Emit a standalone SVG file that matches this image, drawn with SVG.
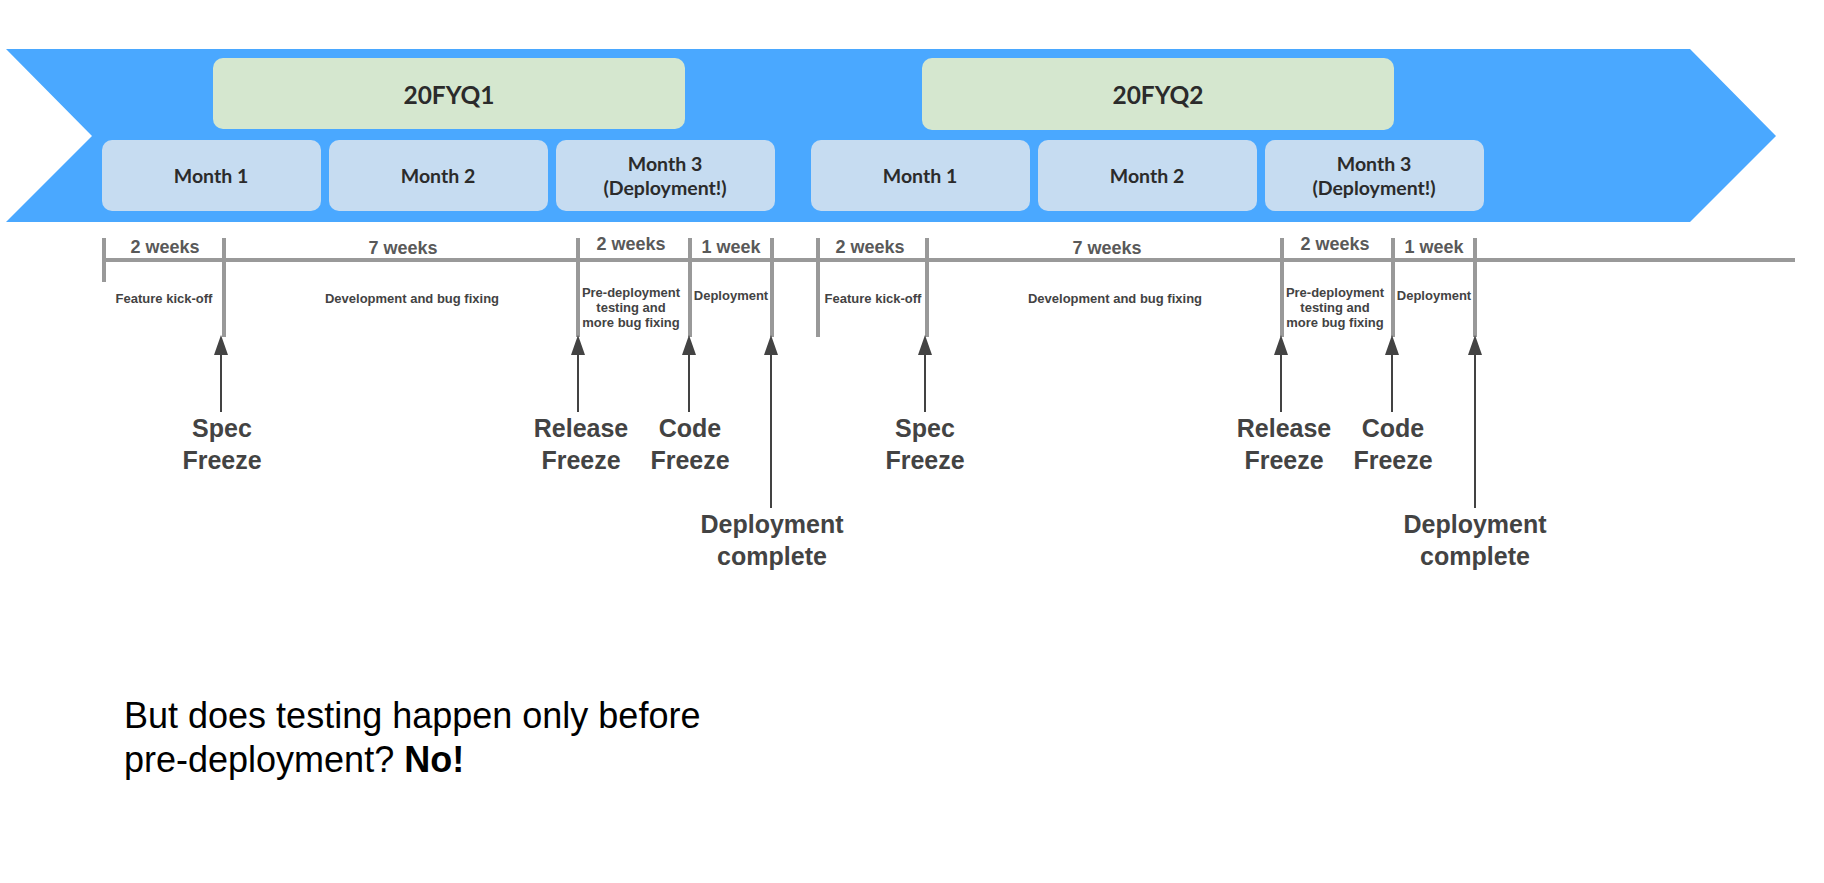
<svg xmlns="http://www.w3.org/2000/svg" width="1824" height="883" viewBox="0 0 1824 883">
<style>
.q{fill:#d5e7cf}
.m{fill:#c6dcf1}
.qt{font-family:Lato,"Liberation Sans",sans-serif;font-weight:bold;font-size:24.5px;fill:#2b2b2b;text-anchor:middle}
.mt{font-family:Lato,"Liberation Sans",sans-serif;font-weight:bold;font-size:19.5px;fill:#2b2b2b;text-anchor:middle}
.wk{font-family:"Liberation Sans",Arial,sans-serif;font-weight:bold;font-size:18px;fill:#595959;text-anchor:middle}
.sm{font-family:"Liberation Sans",Arial,sans-serif;font-weight:bold;font-size:13px;fill:#434343;text-anchor:middle}
.bg{font-family:"Liberation Sans",Arial,sans-serif;font-weight:bold;font-size:25px;fill:#434343;text-anchor:middle}
.tk{stroke:#999;stroke-width:4;fill:none}
.ar{stroke:#434343;stroke-width:2;fill:none;marker-end:url(#ah)}
.note{font-family:"Liberation Sans",Arial,sans-serif;font-size:36px;fill:#000}
</style>
<defs>
<marker id="ah" markerUnits="userSpaceOnUse" markerWidth="20" markerHeight="14" viewBox="0 0 20 14" refX="5" refY="7" orient="auto">
<path d="M0,0 L20,7 L0,14 z" fill="#434343"/>
</marker>
</defs>
<rect width="1824" height="883" fill="#fff"/>
<g id="chevron">
<polygon points="6,49 1690,49 1776,136 1690,222 6,222 92,136" fill="#4aa8ff"/>
</g>
<g id="q1"><rect class="q" x="213" y="58" width="472" height="71" rx="10"/><text class="qt" x="449" y="104">20FYQ1</text></g>
<g id="q2"><rect class="q" x="922" y="58" width="472" height="72" rx="10"/><text class="qt" x="1158" y="104">20FYQ2</text></g>
<g id="q1m1"><rect class="m" x="102" y="140" width="219" height="71" rx="10"/><text class="mt" x="211" y="183">Month 1</text></g>
<g id="q1m2"><rect class="m" x="329" y="140" width="219" height="71" rx="10"/><text class="mt" x="438" y="183">Month 2</text></g>
<g id="q1m3"><rect class="m" x="556" y="140" width="219" height="71" rx="10"/><text class="mt" x="665" y="171">Month 3</text><text class="mt" x="665" y="195">(Deployment!)</text></g>
<g id="q2m1"><rect class="m" x="811" y="140" width="219" height="71" rx="10"/><text class="mt" x="920" y="183">Month 1</text></g>
<g id="q2m2"><rect class="m" x="1038" y="140" width="219" height="71" rx="10"/><text class="mt" x="1147" y="183">Month 2</text></g>
<g id="q2m3"><rect class="m" x="1265" y="140" width="219" height="71" rx="10"/><text class="mt" x="1374" y="171">Month 3</text><text class="mt" x="1374" y="195">(Deployment!)</text></g>
<g id="timeline">
<line class="tk" x1="104" y1="260" x2="1795" y2="260" stroke-width="3.5"/>
<line class="tk" x1="104" y1="238" x2="104" y2="282"/>
<line class="tk" x1="224" y1="238" x2="224" y2="337"/>
<line class="tk" x1="578" y1="238" x2="578" y2="337"/>
<line class="tk" x1="690" y1="238" x2="690" y2="337"/>
<line class="tk" x1="772" y1="238" x2="772" y2="337"/>
<line class="tk" x1="818" y1="238" x2="818" y2="337"/>
<line class="tk" x1="927" y1="238" x2="927" y2="337"/>
<line class="tk" x1="1282" y1="238" x2="1282" y2="337"/>
<line class="tk" x1="1393" y1="238" x2="1393" y2="337"/>
<line class="tk" x1="1475" y1="238" x2="1475" y2="337"/>
</g>
<g id="durations">
<text class="wk" x="165" y="253">2 weeks</text>
<text class="wk" x="403" y="254">7 weeks</text>
<text class="wk" x="631" y="250">2 weeks</text>
<text class="wk" x="731" y="253">1 week</text>
<text class="wk" x="870" y="253">2 weeks</text>
<text class="wk" x="1107" y="254">7 weeks</text>
<text class="wk" x="1335" y="250">2 weeks</text>
<text class="wk" x="1434" y="253">1 week</text>
</g>
<g id="phases">
<text class="sm" x="164" y="303">Feature kick-off</text>
<text class="sm" x="412" y="303">Development and bug fixing</text>
<text class="sm" x="631" y="297">Pre-deployment</text>
<text class="sm" x="631" y="312">testing and</text>
<text class="sm" x="631" y="327">more bug fixing</text>
<text class="sm" x="731" y="300">Deployment</text>
<text class="sm" x="873" y="303">Feature kick-off</text>
<text class="sm" x="1115" y="303">Development and bug fixing</text>
<text class="sm" x="1335" y="297">Pre-deployment</text>
<text class="sm" x="1335" y="312">testing and</text>
<text class="sm" x="1335" y="327">more bug fixing</text>
<text class="sm" x="1434" y="300">Deployment</text>
</g>
<g id="connectors">
<line class="ar" x1="221" y1="412" x2="221" y2="350"/>
<line class="ar" x1="578" y1="412" x2="578" y2="350"/>
<line class="ar" x1="689" y1="412" x2="689" y2="350"/>
<line class="ar" x1="771" y1="508" x2="771" y2="350"/>
<line class="ar" x1="925" y1="412" x2="925" y2="350"/>
<line class="ar" x1="1281" y1="412" x2="1281" y2="350"/>
<line class="ar" x1="1392" y1="412" x2="1392" y2="350"/>
<line class="ar" x1="1475" y1="508" x2="1475" y2="350"/>
</g>
<g id="milestones">
<text class="bg" x="222" y="437">Spec</text><text class="bg" x="222" y="469">Freeze</text>
<text class="bg" x="581" y="437">Release</text><text class="bg" x="581" y="469">Freeze</text>
<text class="bg" x="690" y="437">Code</text><text class="bg" x="690" y="469">Freeze</text>
<text class="bg" x="772" y="533">Deployment</text><text class="bg" x="772" y="565">complete</text>
<text class="bg" x="925" y="437">Spec</text><text class="bg" x="925" y="469">Freeze</text>
<text class="bg" x="1284" y="437">Release</text><text class="bg" x="1284" y="469">Freeze</text>
<text class="bg" x="1393" y="437">Code</text><text class="bg" x="1393" y="469">Freeze</text>
<text class="bg" x="1475" y="533">Deployment</text><text class="bg" x="1475" y="565">complete</text>
</g>
<g id="note">
<text class="note" x="124" y="728">But does testing happen only before</text>
<text class="note" x="124" y="772">pre-deployment? <tspan font-weight="bold">No!</tspan></text>
</g>
</svg>
